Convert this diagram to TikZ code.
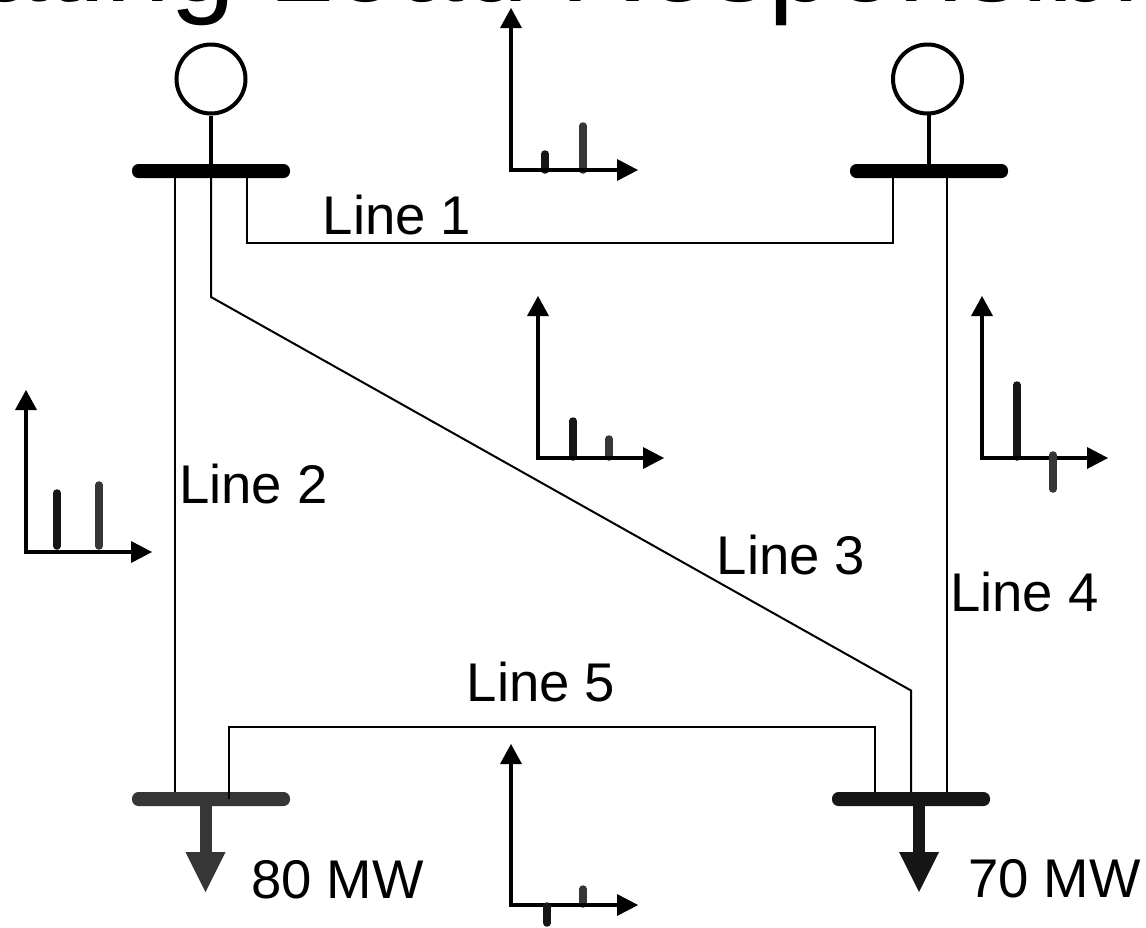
\documentclass[tikz,border=0pt]{standalone}
\usepackage{fontspec}
\setmainfont{Liberation Sans}
\usetikzlibrary{arrows.meta}
\definecolor{darkbar}{HTML}{161616}
\definecolor{greybar}{HTML}{363636}
\tikzset{
  busbar/.style={rectangle,rounded corners=6.5pt,inner sep=0pt,minimum width=158pt,minimum height=14pt,fill=#1,draw=none},
  busbar/.default=black,
  gen/.style={circle,draw=black,line width=4pt,fill=white,inner sep=0pt,minimum size=69pt},
  stem/.style={draw=black,line width=3.2pt},
  tline/.style={draw=black,line width=2pt,line join=miter},
  loadarrow/.style={draw=#1,line width=12pt,-{Triangle[length=40pt,width=40pt,line width=0pt,fill=#1]}},
  axes/.style={draw=black,line width=4pt,line join=miter,{Triangle[length=20pt,width=22pt,line width=0pt]}-{Triangle[length=21pt,width=22pt,line width=0pt]}},
  barA/.style={draw=darkbar,line width=7.5pt,line cap=round},
  barB/.style={draw=greybar,line width=7.5pt,line cap=round},
  lbl/.style={anchor=base west,inner sep=0pt,font=\fontsize{54.5}{60}\selectfont},
  ttl/.style={anchor=base west,inner sep=0pt,font=\fontsize{117}{120}\selectfont}
}
\begin{document}
\begin{tikzpicture}[x=1pt,y=-1pt]
\useasboundingbox (0,0) rectangle (1146,927);
\clip (0,0) rectangle (1146,927);
\fill[white] (0,0) rectangle (1146,927);
% title, cut off by the top edge
\node[ttl] (title) at (-18.2,1.5) {ating Load Responsibility};
% buses
\node[busbar] (b1) at (211,171) {};
\node[busbar] (b2) at (929,171) {};
\node[busbar=greybar] (b3) at (211,799) {};
\node[busbar=darkbar] (b4) at (911,799) {};
% generators
\node[gen] (g1) at (211,79) {};
\node[gen] (g2) at (927.5,79) {};
\draw[stem] (g1.south -| b1) -- (b1.north);
\draw[stem] (929,112) coordinate (g2s) -- (g2s |- b2.north);
% lines
\coordinate (l1a) at (247,243);
\coordinate (l1b) at (893,243);
\draw[tline] (l1a |- b1.south) -- (l1a) -- (l1b) -- (l1b |- b2.south);
\coordinate (l2) at (175,480);
\draw[tline] (l2 |- b1.south) -- (l2 |- b3.north);
\coordinate (l3a) at (211,297);
\coordinate (l3b) at (911,690.5);
\draw[tline] (b1.south) -- (l3a) -- (l3b) -- (b4.north);
\coordinate (l4) at (947,480);
\draw[tline] (l4 |- b2.south) -- (l4 |- b4.north);
\coordinate (l5a) at (229,727);
\coordinate (l5b) at (875,727);
\draw[tline] (l5a |- b3.center) -- (l5a) -- (l5b) -- (l5b |- b4.north);
% loads
\coordinate (t3) at (205.5,892);
\coordinate (t4) at (919,892);
\draw[loadarrow=greybar] (t3 |- b3.south) -- (t3);
\draw[loadarrow=darkbar] (t4 |- b4.south) -- (t4);
% labels
\node[lbl] (n1) at (322.5,234.5) {Line 1};
\node[lbl] (n2) at (179,503) {Line 2};
\node[lbl] (n3) at (716.5,574.5) {Line 3};
\node[lbl] (n4) at (950,611) {Line 4};
\node[lbl] (n5) at (466.5,701) {Line 5};
\node[lbl] (m1) at (251,898) {80 MW};
\node[lbl] (m2) at (968,897.5) {70 MW};
% chart: top
\draw[barA] (545,154) -- (545,170);
\draw[barB] (583,126) -- (583,170);
\draw[axes] (511,8) -- (511,170) -- (638,170);
% chart: middle
\draw[barA] (573,421) -- (573,457);
\draw[barB] (609,439) -- (609,457);
\draw[axes] (538,296) -- (538,458) -- (664,458);
% chart: right
\draw[barA] (1017,385) -- (1017,457);
\draw[axes] (982,296) -- (982,458) -- (1108,458);
\draw[barB] (1053,455) -- (1053,489);
% chart: left
\draw[barA] (57,493) -- (57,546);
\draw[barB] (99,485) -- (99,546);
\draw[axes] (26,390) -- (26,552) -- (152,552);
% chart: bottom
\draw[barB] (583,889) -- (583,904);
\draw[axes] (511,744) -- (511,905) -- (638,905);
\draw[barA] (547,906) -- (547,923);
\end{tikzpicture}
\end{document}
